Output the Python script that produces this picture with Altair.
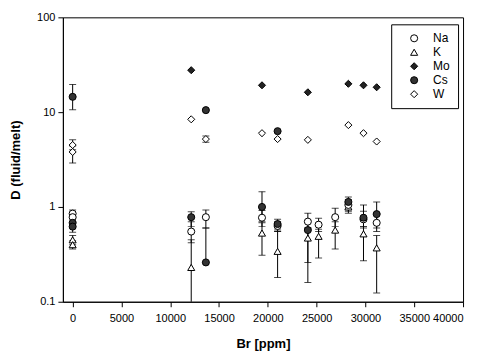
import altair as alt
import pandas as pd

FONT = "Liberation Sans"

elements = ["Na", "K", "Mo", "Cs", "W"]
shapes = ["circle", "triangle-up", "diamond", "circle", "diamond"]
fills = ["white", "white", "#222222", "#333333", "white"]
sizes = [50, 50, 110, 70, 100]

# Na
na_br = [0, 0, 12150, 13650, 19400, 21000, 24100, 25200, 26900, 28250, 29800, 31150]
na_d = [0.85, 0.78, 0.55, 0.78, 0.77, 0.63, 0.70, 0.65, 0.78, 1.05, 0.74, 0.68]
na_lo = [0.78, 0.70, 0.42, 0.60, 0.62, 0.57, 0.60, 0.55, 0.62, 0.86, 0.60, 0.55]
na_hi = [0.93, 0.86, 0.70, 0.93, 0.92, 0.70, 0.86, 0.76, 0.97, 1.20, 0.90, 0.85]

# K
k_br = [0, 0, 12150, 19400, 21000, 24100, 25200, 26900, 28250, 29800, 31150]
k_d = [0.45, 0.40, 0.23, 0.53, 0.34, 0.47, 0.49, 0.57, 1.00, 0.52, 0.37]
k_lo = [0.40, 0.36, 0.05, 0.31, 0.18, 0.16, 0.29, 0.36, 0.90, 0.27, 0.124]
k_hi = [0.50, 0.44, 0.45, 0.68, 0.55, 0.60, 0.58, 0.70, 1.10, 0.62, 0.50]

# Mo
mo_br = [12150, 19400, 24100, 28250, 29800, 31150]
mo_d = [27.7, 19.2, 16.2, 19.9, 19.2, 18.3]

# Cs
cs_br = [0, 0, 0, 12150, 13650, 13650, 19400, 21000, 21000, 24100, 28250, 29800, 31150]
cs_d = [14.5, 0.68, 0.62, 0.78, 10.5, 0.26, 1.00, 6.3, 0.66, 0.57, 1.13, 0.77, 0.84]
cs_lo = [10.6, 0.60, 0.54, 0.62, None, 0.26, 0.70, None, 0.55, 0.26, 0.95, 0.62, 0.60]
cs_hi = [19.6, 0.75, 0.70, 0.89, None, 0.60, 1.45, None, 0.74, 0.72, 1.27, 1.05, 1.13]

# W
w_br = [0, 0, 12150, 13650, 19400, 21000, 24100, 28250, 29800, 31150]
w_d = [4.5, 3.8, 8.4, 5.2, 6.0, 5.2, 5.1, 7.3, 6.0, 4.9]
w_lo = [4.0, 2.9, None, 4.8, None, None, None, None, None, None]
w_hi = [5.1, 4.4, None, 5.6, None, None, None, None, None, None]

x_ticks = [0, 5000, 10000, 15000, 20000, 25000, 30000, 35000, 40000]
y_ticks = [0.1, 1, 10, 100]

rows = []
def add(el, brs, ds, los=None, his=None):
    for i, (b, d) in enumerate(zip(brs, ds)):
        lo = los[i] if los else None
        hi = his[i] if his else None
        rows.append({"el": el, "br": b, "d": d, "lo": lo, "hi": hi})

add("W", w_br, w_d, w_lo, w_hi)
add("Mo", mo_br, mo_d)
add("K", k_br, k_d, k_lo, k_hi)
add("Na", na_br, na_d, na_lo, na_hi)
add("Cs", cs_br, cs_d, cs_lo, cs_hi)

df = pd.DataFrame(rows)
df["order"] = range(len(df))
err = df.dropna(subset=["lo", "hi"]).copy()

xscale = alt.Scale(domain=[-1000, 40000], nice=False, zero=False)
yscale = alt.Scale(type="log", domain=[0.1, 100], nice=False)

xax = alt.Axis(values=x_ticks, format="d", title="Br [ppm]", grid=False,
               tickSize=5, labelPadding=6, titlePadding=14)
yax = alt.Axis(values=y_ticks, format=".1~f", title="D (fluid/melt)", grid=False,
               tickSize=5, labelPadding=3, titlePadding=14)

base_err = alt.Chart(err)
rules = base_err.mark_rule(color="black", strokeWidth=1, clip=True).encode(
    x=alt.X("br:Q", scale=xscale, axis=xax),
    y=alt.Y("lo:Q", scale=yscale, axis=yax),
    y2="hi:Q",
)
cap_lo = base_err.mark_tick(color="black", thickness=1, size=7, orient="horizontal", clip=True).encode(
    x=alt.X("br:Q", scale=xscale),
    y=alt.Y("lo:Q", scale=yscale),
)
cap_hi = base_err.mark_tick(color="black", thickness=1, size=7, orient="horizontal", clip=True).encode(
    x=alt.X("br:Q", scale=xscale),
    y=alt.Y("hi:Q", scale=yscale),
)

leg = alt.Legend(orient="none", legendX=329, legendY=7)
points = alt.Chart(df).mark_point(filled=True, strokeWidth=1, opacity=1).encode(
    x=alt.X("br:Q", scale=xscale),
    y=alt.Y("d:Q", scale=yscale),
    shape=alt.Shape("el:N", scale=alt.Scale(domain=elements, range=shapes), title=None, legend=leg),
    fill=alt.Fill("el:N", scale=alt.Scale(domain=elements, range=fills), title=None, legend=leg),
    stroke=alt.Stroke("el:N", scale=alt.Scale(domain=elements, range=["black"] * 5), title=None, legend=leg),
    size=alt.Size("el:N", scale=alt.Scale(domain=elements, range=sizes), title=None, legend=leg),
    order=alt.Order("order:Q"),
)

chart = alt.layer(rules, cap_lo, cap_hi, points).properties(
    width=401, height=285,
    autosize=alt.AutoSizeParams(type="none"),
    padding={"left": 55, "top": 9, "right": 20, "bottom": 50},
).configure_view(
    stroke="black", strokeWidth=1
).configure_axis(
    domainColor="black", tickColor="black", labelColor="black", titleColor="black",
    labelFont=FONT, titleFont=FONT, labelFontSize=11, titleFontSize=13, titleFontWeight="bold",
    domainWidth=1, tickWidth=1,
).configure_legend(
    strokeColor="black", strokeWidth=1, padding=8, fillColor="white",
    labelFont=FONT, labelFontSize=12, labelColor="black",
    symbolStrokeColor="black", symbolStrokeWidth=1,
    symbolOffset=9, labelOffset=13, rowPadding=2, cornerRadius=0,
)

chart.save("out.html", embed_options={"renderer": "svg", "actions": False})
